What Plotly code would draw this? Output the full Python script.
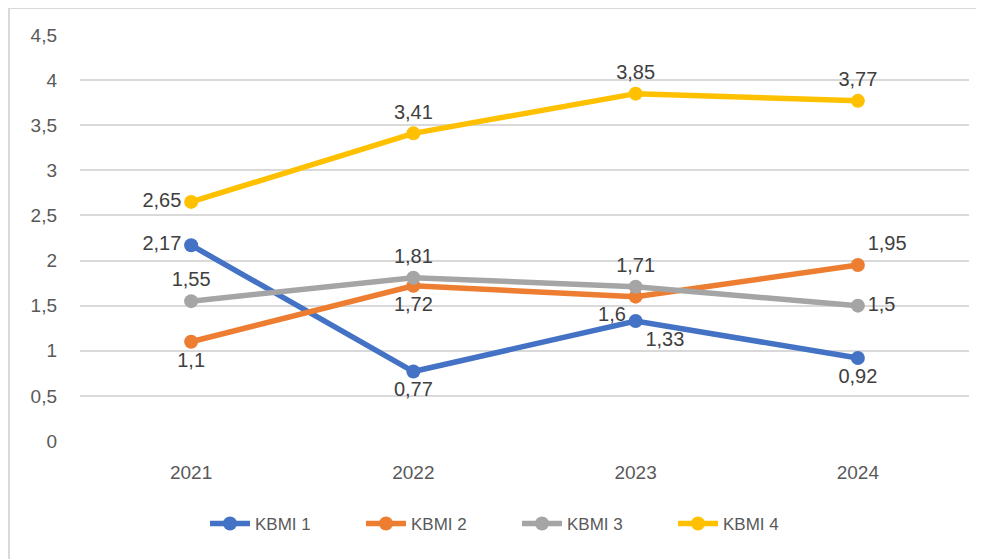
import plotly.graph_objects as go

years = ["2021", "2022", "2023", "2024"]
kbmi1 = [2.17, 0.77, 1.33, 0.92]
kbmi2 = [1.10, 1.72, 1.60, 1.95]
kbmi3 = [1.55, 1.81, 1.71, 1.50]
kbmi4 = [2.65, 3.41, 3.85, 3.77]
series_names = ["KBMI 1", "KBMI 2", "KBMI 3", "KBMI 4"]
colors = ["#4472C4", "#ED7D31", "#A5A5A5", "#FFC000"]
positions = [
    ["middle left", "bottom center", "bottom right", "bottom center"],
    ["bottom center", "bottom center", "bottom left", "top right"],
    ["top center", "top center", "top center", "middle right"],
    ["middle left", "top center", "top center", "top center"],
]

def fmt(v):
    return ("%g" % v).replace(".", ",")

FONT = "Liberation Sans, Arial, sans-serif"

fig = go.Figure()
for name, vals, col, pos in zip(series_names, [kbmi1, kbmi2, kbmi3, kbmi4], colors, positions):
    fig.add_trace(go.Scatter(
        x=years, y=vals, name=name, mode="lines+markers+text",
        line=dict(color=col, width=5.5),
        marker=dict(color=col, size=14),
        text=[fmt(v) for v in vals], textposition=pos,
        textfont=dict(family=FONT, size=20, color="#404040"),
        cliponaxis=False,
    ))

# page has an 8px body margin: figure origin sits at (8, 8)
W, H = 976, 551
L, T, PW, PH = 72, 27, 889, 406
fig.update_layout(
    width=W, height=H,
    margin=dict(l=L, r=W - L - PW, t=T, b=H - T - PH),
    paper_bgcolor="white", plot_bgcolor="white",
    separators=", ",
    font=dict(family=FONT, color="#595959"),
    xaxis=dict(range=[-0.5, 3.5], showgrid=False, showline=False, zeroline=False,
               tickfont=dict(size=19, color="#595959"), ticks="", ticklabelstandoff=18),
    yaxis=dict(range=[0, 4.5], dtick=0.5, showgrid=True, gridcolor="#D9D9D9", gridwidth=2,
               zeroline=False, showline=False,
               tickfont=dict(size=19, color="#595959"), ticks="", ticklabelstandoff=22),
    legend=dict(orientation="h", x=(517 - 80) / PW, xanchor="center",
                y=-(524 - 441) / PH, yanchor="middle",
                font=dict(size=17, color="#595959"), itemwidth=40, tracegroupgap=0,
                entrywidth=101, entrywidthmode="pixels"),
    showlegend=True,
)
fig.add_shape(type="rect", xref="paper", yref="paper",
              x0=(1 - L) / PW, x1=(W + 10 - L) / PW,
              y0=-(H + 10 - T - PH) / PH, y1=1 + (T - 0) / PH,
              line=dict(color="#D9D9D9", width=2), fillcolor="rgba(0,0,0,0)", layer="below")

fig.write_html("out.html")
